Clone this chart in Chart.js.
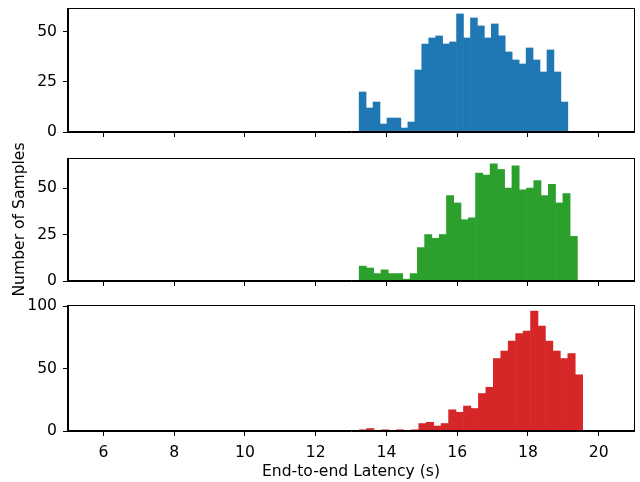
<!DOCTYPE html>
<html><head><meta charset="utf-8">
<script src="https://cdn.jsdelivr.net/npm/chart.js@4"></script>
<style>
html,body{margin:0;padding:0;background:#fff;}
#wrap{position:relative;width:640px;height:482px;}
.pane{position:absolute;left:0;top:0;width:640px;height:482px;}
</style></head><body>
<div id="wrap">
<div class="pane"><canvas id="c1"></canvas></div>
<div class="pane"><canvas id="c2"></canvas></div>
<div class="pane"><canvas id="c3"></canvas></div>
</div>
<script>
// ---- data (histogram counts, 30 bins each) ----
const countsBlue  = [20,12,15,4,7,7,2,5,31,44,47,48,44,45,59,47,57,53,47,54,48,40,36,34,42,36,30,41,30,15];
const countsGreen = [8,7,4,6,4,4,1,4,18,25,23,25,46,42,33,34,58,57,63,60,50,62,49,50,54,46,52,42,47,24];
const countsRed   = [1,2,0,1,0,1,0,1,6,7,4,6,17,15,20,18,30,35,58,64,72,78,80,96,84,72,64,58,62,45];
// bin ranges (seconds)
const rangeBlue  = [13.23, 19.13];
const rangeGreen = [13.23, 19.40];
const rangeRed   = [13.23, 19.55];
// tick labels
const xTicks = [6, 8, 10, 12, 14, 16, 18, 20];
const yTicksBlue  = [0, 25, 50];
const yTicksGreen = [0, 25, 50];
const yTicksRed   = [0, 50, 100];
const xTitle = 'End-to-end Latency (s)';
const yTitle = 'Number of Samples';

Chart.defaults.font.family = "'DejaVu Sans', sans-serif";
Chart.defaults.font.size = 15.6;
Chart.defaults.color = '#000';

function toBins(counts, range) {
  const n = counts.length, w = (range[1] - range[0]) / n;
  return counts.map((c, i) => ({ x: range[0] + (i + 0.5) * w, y: c }));
}

const boxPlugin = {
  id: 'box',
  afterDraw(chart) {
    const a = chart.chartArea, ctx = chart.ctx;
    ctx.save();
    ctx.strokeStyle = '#000';
    ctx.lineWidth = 1;
    ctx.strokeRect(Math.round(a.left) - 0.5, Math.round(a.top) + 0.5,
                   Math.round(a.right - a.left) + 1, Math.round(a.bottom - a.top) - 1);
    ctx.restore();
  }
};

function noPad(s) { s.paddingTop = 0; s.paddingBottom = 0; s.paddingLeft = 0; s.paddingRight = 0; }

function makeChart(id, counts, range, color, yTicks, yMax, top, bottom, isBottom, showYTitle) {
  const xH = isBottom ? 51 : 10;
  return new Chart(document.getElementById(id), {
    type: 'bar',
    data: { datasets: [{ data: toBins(counts, range), backgroundColor: color, borderWidth: 0,
      barPercentage: 1, categoryPercentage: 1, inflateAmount: 0.3 }] },
    options: {
      responsive: true, maintainAspectRatio: false, animation: false, devicePixelRatio: 1,
      layout: { padding: { left: 0, right: 6, top: top, bottom: 482 - bottom - xH } },
      plugins: { legend: { display: false }, tooltip: { enabled: false } },
      scales: {
        x: {
          type: 'linear', min: 5, max: 21, offset: false,
          afterBuildTicks: s => { s.ticks = xTicks.map(v => ({ value: v })); },
          afterFit: s => { s.height = xH; noPad(s); },
          grid: { drawOnChartArea: false, drawTicks: true, tickLength: 5, color: '#000', lineWidth: 1, offset: false },
          border: { display: true, color: '#000', width: 1 },
          ticks: { padding: 8, color: isBottom ? '#000' : 'rgba(0,0,0,0)', maxRotation: 0, autoSkip: false },
          title: { display: isBottom, text: xTitle, padding: { top: 0, bottom: 1 } }
        },
        y: {
          type: 'linear', min: 0, max: yMax,
          afterBuildTicks: s => { s.ticks = yTicks.map(v => ({ value: v })); },
          afterFit: s => { s.width = 68; noPad(s); },
          grid: { drawOnChartArea: false, drawTicks: true, tickLength: 5, color: '#000', lineWidth: 1 },
          border: { display: true, color: '#000', width: 1 },
          ticks: { padding: 6 },
          title: { display: showYTitle, text: yTitle, padding: { top: 11, bottom: 0 } }
        }
      }
    },
    plugins: [boxPlugin]
  });
}

makeChart('c1', countsBlue, rangeBlue, '#1f77b4', yTicksBlue, 61.95, 8, 132, false, false);
makeChart('c2', countsGreen, rangeGreen, '#2ca02c', yTicksGreen, 66.15, 158, 281, false, true);
makeChart('c3', countsRed, rangeRed, '#d62728', yTicksRed, 100.8, 305, 431, true, false);
</script>
</body></html>
